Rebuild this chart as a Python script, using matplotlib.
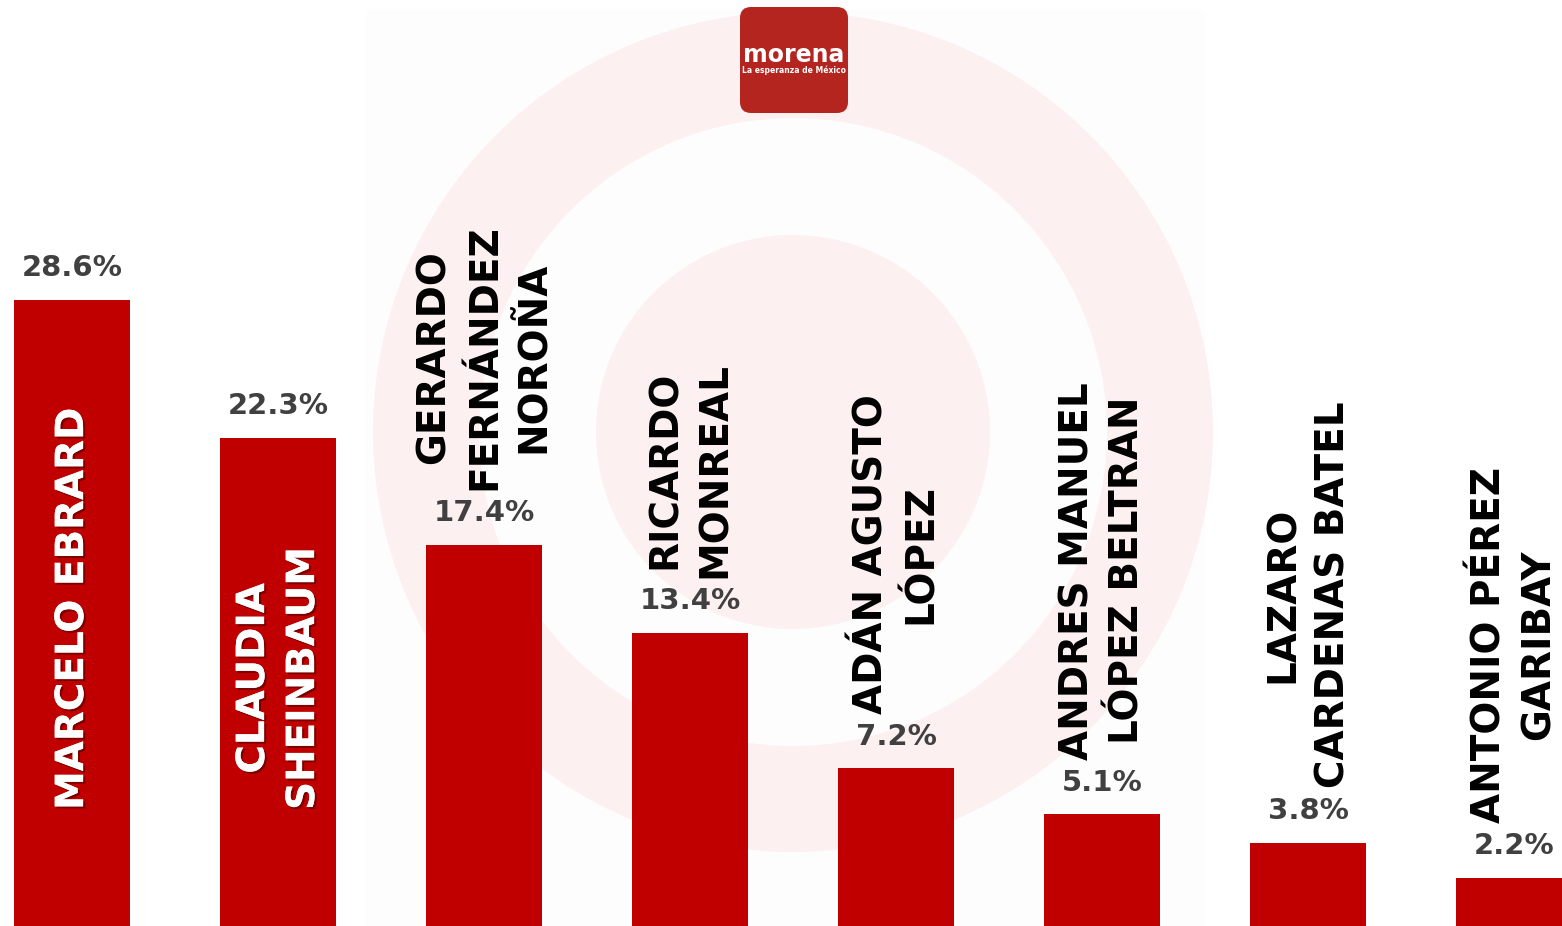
import matplotlib
matplotlib.use("Agg")
import matplotlib.pyplot as plt
import matplotlib.patheffects as pe
from matplotlib.patches import Circle, Wedge, Rectangle, FancyBboxPatch

candidates = ["MARCELO EBRARD", "CLAUDIA\nSHEINBAUM", "GERARDO\nFERNÁNDEZ\nNOROÑA",
              "RICARDO\nMONREAL", "ADÁN AGUSTO\nLÓPEZ", "ANDRES MANUEL\nLÓPEZ BELTRAN",
              "LAZARO\nCARDENAS BATEL", "ANTONIO PÉREZ\nGARIBAY"]
values = [28.6, 22.3, 17.4, 13.4, 7.2, 5.1, 3.8, 2.2]
labels = ["28.6%", "22.3%", "17.4%", "13.4%", "7.2%", "5.1%", "3.8%", "2.2%"]

W, H = 1562, 926
fig = plt.figure(figsize=(W / 100, H / 100), dpi=100)
fig.patch.set_facecolor("white")

# background decoration (pixel coordinates)
bg = fig.add_axes([0, 0, 1, 1])
bg.set_xlim(0, W)
bg.set_ylim(H, 0)
bg.axis("off")
bg.add_patch(Rectangle((365, 10), 840, 930, color="#fdfdfd", lw=0))
ring = "#fdf0f0"
bg.add_patch(Wedge((793, 432), 420, 0, 360, width=106, color=ring, lw=0))
bg.add_patch(Circle((793, 432), 197, color=ring, lw=0))

# bars
ax = fig.add_axes([0, 0, 1, 1])
ax.patch.set_alpha(0)
x = list(range(len(values)))
ax.bar(x, values, width=0.563, color="#c00000")
ax.set_xlim(-0.35, (W - 72) / 206)
ax.set_ylim(0, H / 21.9)
ax.axis("off")

shadow = [pe.withSimplePatchShadow(offset=(1.5, -1.5), shadow_rgbFace="black", alpha=0.35), pe.Normal()]
for i, (v, name, lab) in enumerate(zip(values, candidates, labels)):
    ax.text(i, v + 0.8, lab, ha="center", va="bottom", fontsize=21,
            fontweight="bold", color="#404040")
    if v > 20:
        ax.text(i, 5.3, name, rotation=90, ha="center", va="bottom",
                multialignment="center", fontsize=28, fontweight="bold",
                color="white", linespacing=1.4, path_effects=shadow)
    else:
        ax.text(i, v + 2.5, name, rotation=90, ha="center", va="bottom",
                multialignment="center", fontsize=28, fontweight="bold",
                color="black", linespacing=1.4)

# logo
logo = fig.add_axes([0, 0, 1, 1])
logo.set_xlim(0, W)
logo.set_ylim(H, 0)
logo.axis("off")
logo.add_patch(FancyBboxPatch((740, 7), 108, 106, boxstyle="round,pad=0,rounding_size=11",
                              facecolor="#b5251f", edgecolor="none", lw=0))
logo.text(794, 55, "morena", ha="center", va="center", color="white",
          fontsize=17, fontweight="bold")
logo.text(794, 70, "La esperanza de México", ha="center", va="center",
          color="white", fontsize=5.5, fontweight="bold")

fig.savefig("out.png", dpi=100)
